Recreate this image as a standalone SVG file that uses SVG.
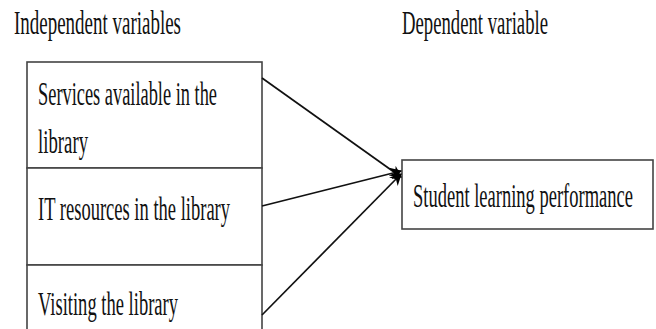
<svg xmlns="http://www.w3.org/2000/svg" width="656" height="329" viewBox="0 0 656 329">
<style>
.t{font-family:"Liberation Serif","Times New Roman",serif;font-size:34px;fill:#111}
.b{fill:#fff;stroke:#444;stroke-width:1.6}
.c{stroke:#111;stroke-width:1.7;fill:none;marker-end:url(#ah)}
</style>
<defs>
<marker id="ah" viewBox="0 0 10 10" refX="9" refY="5" markerWidth="14" markerHeight="12" markerUnits="userSpaceOnUse" orient="auto">
<path d="M0,0 L10,5 L0,10 L3,5 Z" fill="#000"/>
</marker>
</defs>
<rect width="656" height="329" fill="#fff"/>
<g id="headings" transform="scale(0.56 1)">
<text class="t" x="25" y="34" textLength="298.2" lengthAdjust="spacingAndGlyphs">Independent variables</text>
<text class="t" x="717.9" y="34" textLength="260.7" lengthAdjust="spacingAndGlyphs">Dependent variable</text>
</g>
<g id="n1">
<rect class="b" x="27" y="62" width="235" height="106"/>
<g transform="scale(0.56 1)">
<text class="t" x="67.9" y="105" textLength="319.6" lengthAdjust="spacingAndGlyphs">Services available in the</text>
<text class="t" x="67.9" y="153" textLength="89.3" lengthAdjust="spacingAndGlyphs">library</text>
</g>
</g>
<g id="n2">
<rect class="b" x="27" y="168" width="235" height="97"/>
<g transform="scale(0.56 1)">
<text class="t" x="67.9" y="220" textLength="342.9" lengthAdjust="spacingAndGlyphs">IT resources in the library</text>
</g>
</g>
<g id="n3">
<rect class="b" x="27" y="265" width="235" height="80"/>
<g transform="scale(0.56 1)">
<text class="t" x="67.9" y="315" textLength="250" lengthAdjust="spacingAndGlyphs">Visiting the library</text>
</g>
</g>
<g id="n4">
<rect class="b" x="402" y="160" width="251" height="69"/>
<g transform="scale(0.56 1)">
<text class="t" x="737.5" y="207" textLength="392.9" lengthAdjust="spacingAndGlyphs">Student learning performance</text>
</g>
</g>
<g id="connectors">
<line class="c" x1="262" y1="78" x2="401" y2="177"/>
<line class="c" x1="262" y1="206" x2="401" y2="171"/>
<line class="c" x1="262" y1="315" x2="401" y2="174"/>
</g>
</svg>
